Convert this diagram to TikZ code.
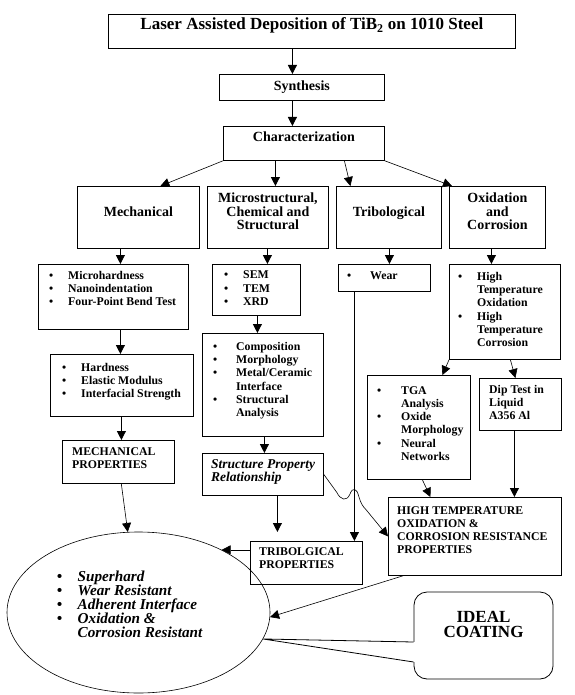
\documentclass[tikz,border=0pt]{standalone}
\usepackage{fontspec}
\setmainfont{Liberation Serif}
\usetikzlibrary{arrows.meta,shapes.geometric}
\lineskiplimit=-20pt
\newcommand{\bul}[1][19pt]{\makebox[#1][l]{\textbullet}}
\newcommand{\ind}[1][19pt]{\hspace*{#1}}
\tikzset{
	every box/.style={
		draw,
		line width=0.8pt,
		anchor=north west,
		inner sep=0pt
	},
	box text/.style={
		anchor=north west,
		inner sep=0pt,
		align=left,
		font=\bfseries\fontsize{11.8}{13.3}\selectfont
	},
	head text/.style={
		anchor=north,
		inner sep=0pt,
		align=center,
		font=\bfseries\fontsize{14}{13.3}\selectfont
	},
	link/.style={->, line width=0.9pt},
	thin link/.style={->, line width=0.6pt},
}
\begin{document}
\begin{tikzpicture}[x=1pt, y=-1pt, >={Triangle[length=9pt, width=9pt]}]

\useasboundingbox (0,0) rectangle (574,695);

\foreach \n/\x/\y/\w/\h in {title/108/14/407/34, synth/219/74/165/26, charac/223/126/161/34,
		mech/77/186/122/62, micro/207/186/121/62, tribo/336/186/105/62, oxid/449/186/96/62,
		mechlist/38/264/150/65, semlist/212/264/88/51, wear/338/264/92/27, htlist/449/264/111/95,
		hardlist/50/354/143/62, complist/202/333/121/103, tgalist/367/375/103/104, diplist/479/378/82/52,
		mechprop/62/440/112/43, spr/202/453/121/42, tribprop/250/541/112/43, htprop/388/497/173/78}
	\node [every box, minimum width=\w pt, minimum height=\h pt] (\n) at (\x,\y) {};

\node [draw, ellipse, line width=0.6pt, minimum width=263pt, minimum height=161pt] (ell) at (138.5,612.5) {};
\node [draw, line width=0.8pt, rounded corners=13pt, minimum width=139pt, minimum height=87pt, inner sep=0pt] (ideal) at (483.5,635.5) {};
\fill [white] (ell.-12) -- ([xshift=1.2pt, yshift=-6.5pt]ideal.west) -- ([xshift=1.2pt, yshift=-26.5pt]ideal.west) -- cycle;
\draw [line width=0.8pt] ([yshift=-6.5pt]ideal.west) -- (ell.-12) -- ([yshift=-26.5pt]ideal.west);

\node [head text, font=\bfseries\fontsize{17}{18}\selectfont] (title-t) at ([yshift=-3.6pt]title.north)
	{Laser Assisted Deposition of TiB\textsubscript{2} on 1010 Steel};
\node [head text] (synth-t) at ([yshift=-6.4pt]synth.north) {Synthesis};
\node [head text] (charac-t) at ([yshift=-5.4pt]charac.north) {Characterization};
\node [head text] (mech-t) at ([yshift=-20.4pt]mech.north) {Mechanical};
\node [head text] (micro-t) at ([yshift=-7pt]micro.north) {Microstructural,\\ Chemical and\\ Structural};
\node [head text] (tribo-t) at ([yshift=-20.4pt]tribo.north) {Tribological};
\node [head text] (oxid-t) at ([yshift=-7pt]oxid.north) {Oxidation\\ and\\ Corrosion};

\node [box text] (mechlist-t) at ([shift={(11pt,-6.9pt)}]mechlist.north west)
	{\bul Microhardness\\ \bul Nanoindentation\\ \bul Four-Point Bend Test};
\node [box text] (semlist-t) at ([shift={(12pt,-6.9pt)}]semlist.north west)
	{\bul SEM\\ \bul TEM\\ \bul XRD};
\node [box text] (wear-t) at ([shift={(9pt,-8pt)}]wear.north west) {\bul[20pt] Wear};
\node [box text] (htlist-t) at ([shift={(9pt,-8pt)}]htlist.north west)
	{\bul High\\ \ind Temperature\\ \ind Oxidation\\ \bul High\\ \ind Temperature\\ \ind Corrosion};
\node [box text] (hardlist-t) at ([shift={(12pt,-9pt)}]hardlist.north west)
	{\bul Hardness\\ \bul Elastic Modulus\\ \bul Interfacial Strength};
\node [box text] (complist-t) at ([shift={(11pt,-9pt)}]complist.north west)
	{\bul[20pt] Composition\\ \bul[20pt] Morphology\\ \bul[20pt] Metal/Ceramic\\ \ind[20pt] Interface\\ \bul[20pt] Structural\\ \ind[20pt] Analysis};
\node [box text] (tgalist-t) at ([shift={(10pt,-11pt)}]tgalist.north west)
	{\bul[21pt] TGA\\ \ind[21pt] Analysis\\ \bul[21pt] Oxide\\ \ind[21pt] Morphology\\ \bul[21pt] Neural\\ \ind[21pt] Networks};
\node [box text] (diplist-t) at ([shift={(10pt,-7pt)}]diplist.north west) {Dip Test in\\ Liquid\\ A356 Al};
\node [box text] (mechprop-t) at ([shift={(10pt,-7pt)}]mechprop.north west) {MECHANICAL\\ PROPERTIES};
\node [box text, font=\bfseries\itshape\fontsize{13.5}{13.5}\selectfont] (spr-t) at ([shift={(9pt,-6pt)}]spr.north west)
	{Structure Property\\ Relationship};
\node [box text] (tribprop-t) at ([shift={(9pt,-6pt)}]tribprop.north west) {TRIBOLGICAL\\ PROPERTIES};
\node [box text] (htprop-t) at ([shift={(9pt,-9pt)}]htprop.north west)
	{HIGH TEMPERATURE\\ OXIDATION \&\\ CORROSION RESISTANCE\\ PROPERTIES};
\node [box text, font=\bfseries\itshape\fontsize{15.2}{14}\selectfont] (ell-t) at ([shift={(50pt,41.5pt)}]ell.west)
	{\bul[17pt] Superhard\\ \bul[17pt] Wear Resistant\\ \bul[17pt] Adherent Interface\\ \bul[17pt] Oxidation \&\\ \ind[17pt] Corrosion Resistant};
\node [head text, font=\bfseries\fontsize{17}{15.5}\selectfont] (ideal-t) at ([yshift=-19pt]ideal.north) {IDEAL\\ COATING};

\draw [link] ([xshift=-19.5pt]title.south) -- ([xshift=-9.5pt]synth.north);
\draw [link] ([xshift=-9.5pt]synth.south) -- ([xshift=-11.5pt]charac.north);
\draw [thin link] (charac.south west) -- ([xshift=22pt]mech.north);
\draw [link] ([xshift=-28.5pt]charac.south) -- ([xshift=7.5pt]micro.north);
\draw [thin link] ([xshift=40.5pt]charac.south) -- ([xshift=-38.5pt]tribo.north);
\draw [thin link] (charac.south east) -- ([xshift=3pt]oxid.north west);

\draw [link] ([xshift=-18pt]mech.south) -- ([xshift=7pt]mechlist.north);
\draw [link] ([xshift=-0.5pt]micro.south) -- ([xshift=11pt]semlist.north);
\draw [link] ([xshift=0.5pt]tribo.south) -- ([xshift=5pt]wear.north);
\draw [link] ([xshift=-6pt]oxid.south) -- ([xshift=-13.5pt]htlist.north);

\draw [link] ([xshift=7pt]mechlist.south) -- ([xshift=-1.5pt]hardlist.north);
\draw [link] ([xshift=1pt]semlist.south) -- ([xshift=-5.5pt]complist.north);
\draw [thin link] (htlist.south west) -- ([xshift=23.5pt]tgalist.north);
\draw [thin link] ([xshift=5.5pt]htlist.south) -- ([xshift=-5pt]diplist.north);

\draw [link] ([xshift=-0.5pt]hardlist.south) -- ([xshift=3pt]mechprop.north);
\draw [link] ([xshift=1.5pt]complist.south) -- ([xshift=1.5pt]spr.north);
\draw [link] ([xshift=-30pt]wear.south) -- ([xshift=48pt]tribprop.north);
\draw [link, shorten >=9pt] ([xshift=14.5pt]spr.south) -- ([xshift=-29pt]tribprop.north);
\draw [thin link] ([xshift=3.5pt]tgalist.south) -- ([xshift=-44.5pt]htprop.north);
\draw [link] ([xshift=-6pt]diplist.south) -- ([xshift=39.5pt]htprop.north);
\draw [thin link] (spr.east) -- ++(13,18) .. controls +(4,8) and +(-3,7) .. ++(13,2)
	.. controls +(3,-8) and +(-2,-8) .. ++(9,2) .. controls +(2,7) and +(-3,-3) .. ++(7,13) -- (htprop.west);

\draw [thin link] (mechprop) -- (ell);
\draw [thin link] (tribprop.west |- ell.37.5) -- (ell.37.5);
\draw [thin link] ([xshift=15pt]htprop.south west) -- (ell.-2);

\end{tikzpicture}
\end{document}
